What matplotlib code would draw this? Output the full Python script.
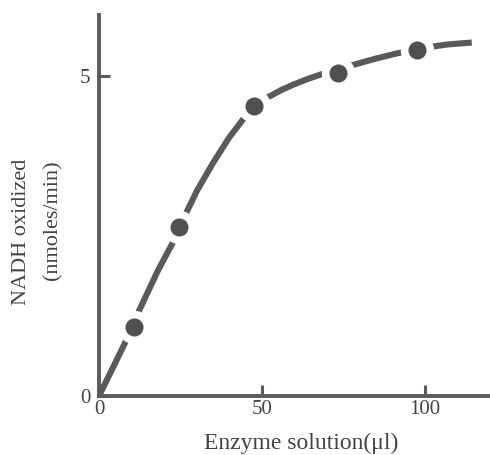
import matplotlib
matplotlib.use("Agg")
import matplotlib.pyplot as plt

# measured data points
enzyme_ul = [10.7, 24.7, 47.7, 73.3, 97.5]
nadh_rate = [1.07, 2.64, 4.53, 5.05, 5.41]

# hand-drawn guide curve
curve_x = [0, 8.0, 12.0, 18.0, 22.7, 26.4, 30.0, 35.0, 40.0, 44.8, 48.0, 52.0, 56.0,
           60.0, 64.0, 68.0, 73.0, 78.0, 85.0, 91.4, 100.0, 107.0, 114.4]
curve_y = [0, 0.83, 1.30, 1.95, 2.40, 2.82, 3.20, 3.64, 4.04, 4.36, 4.53, 4.67, 4.78,
           4.87, 4.95, 5.02, 5.09, 5.17, 5.27, 5.35, 5.44, 5.49, 5.52]

x_ticks = [0, 50, 100]
y_ticks = [0, 5]

grey = "#5a5a5a"
dark = "#505050"
font = ["Liberation Serif", "DejaVu Serif"]

fig = plt.figure(figsize=(4.9, 4.55), dpi=100)
ax = fig.add_axes([99 / 490, 59 / 455, 391 / 490, 381 / 455])

ax.plot(curve_x, curve_y, color=grey, lw=4.4, solid_capstyle="butt",
        solid_joinstyle="round", zorder=2)
ax.plot(enzyme_ul, nadh_rate, ls="none", marker="o", ms=24, mfc="white", mec="none", zorder=3)
ax.plot(enzyme_ul, nadh_rate, ls="none", marker="o", ms=13, mfc=dark, mec="none", zorder=4)

ax.set_xlim(0, 120)
ax.set_ylim(0, 5.95)
ax.set_xticks(x_ticks)
ax.set_yticks(y_ticks)
ax.set_xticklabels([str(v) for v in x_ticks], family=font, fontsize=15, color="#444444")
ax.set_yticklabels([str(v) for v in y_ticks], family=font, fontsize=15, color="#444444")
ax.tick_params(direction="in", length=8, width=2.2, color=grey, pad=3)
ax.tick_params(axis="y", pad=6)
for s in ["top", "right"]:
    ax.spines[s].set_visible(False)
for s in ["left", "bottom"]:
    ax.spines[s].set_color(grey)
    ax.spines[s].set_linewidth(2.8)
ax.patch.set_alpha(0)

fig.text(301 / 490, 1 - 443 / 455, "Enzyme solution(\u03bcl)", family=font, fontsize=17,
         color="#444444", ha="center", va="center")
fig.text(22 / 490, 1 - 232 / 455, "NADH oxidized", family=font, fontsize=16,
         color="#444444", ha="center", va="center", rotation=90)
fig.text(53 / 490, 1 - 220 / 455, "(nmoles/min)", family=font, fontsize=16,
         color="#444444", ha="center", va="center", rotation=90)

fig.savefig("out.png", dpi=100, facecolor="white")
